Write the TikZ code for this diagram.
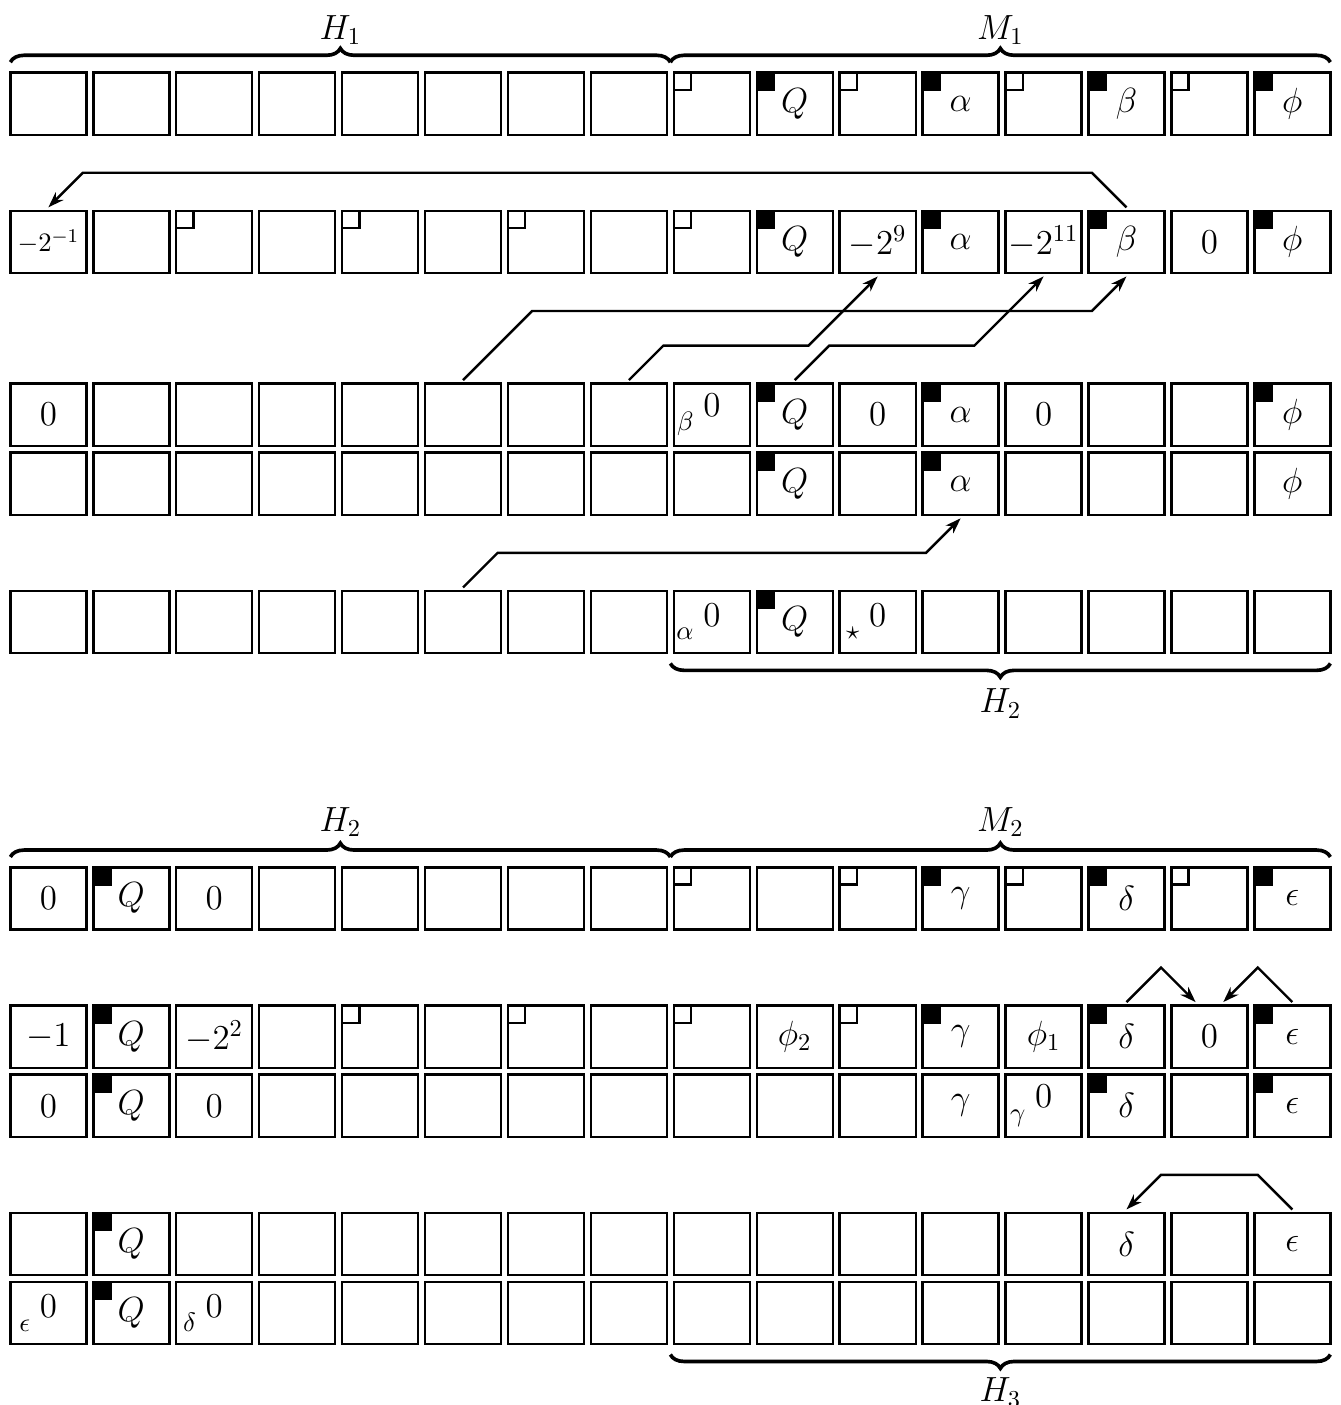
\documentclass[tikz,border=0pt]{standalone}
\usetikzlibrary{decorations.pathreplacing,arrows.meta,calc}
\tikzset{
  cell/.style={draw, line width=1pt, minimum width=1.1cm, minimum height=0.9cm, inner sep=0pt, outer sep=0pt, font=\Large},
  conn/.style={line width=1pt, -{Stealth[length=6.5pt,width=4.5pt]}},
  brc/.style={decorate, decoration={brace, amplitude=0.2cm}, line width=1.5pt},
  lbl/.style={font=\Large, inner sep=0pt},
}
\newcommand{\cellrow}[3]{\foreach \ct [count=\ci] in {#3} {\node[cell] (r#1c\ci) at ({0.7+1.2*(\ci-1)},#2) {\ct};}}
\newcommand{\osq}[1]{\draw[line width=1pt] (#1.north west) rectangle ++(0.25,-0.25);}
\newcommand{\fsq}[1]{\filldraw[line width=1pt] (#1.north west) rectangle ++(0.25,-0.25);}
\newcommand{\lsub}[2]{$\llap{\raisebox{-5.5pt}{\fontsize{11}{13}\selectfont$#1$}\hspace{4pt}}#2$}
\begin{document}
\begin{tikzpicture}
\useasboundingbox (0,0) rectangle (19.39,-20.33);
% ---------- first diagram ----------
\cellrow{1}{-1.5}{{},{},{},{},{},{},{},{},{},{$Q$},{},{$\alpha$},{},{$\beta$},{},{$\phi$}}
\cellrow{2}{-3.5}{{\fontsize{11}{13}\selectfont$-2^{-1}$},{},{},{},{},{},{},{},{},{$Q$},{$-2^9$},{$\alpha$},{$-2^{11}$},{$\beta$},{$0$},{$\phi$}}
\cellrow{3}{-6}{{$0$},{},{},{},{},{},{},{},{\lsub{\beta}{0}},{$Q$},{$0$},{$\alpha$},{$0$},{},{},{$\phi$}}
\cellrow{4}{-7}{{},{},{},{},{},{},{},{},{},{$Q$},{},{$\alpha$},{},{},{},{$\phi$}}
\cellrow{5}{-9}{{},{},{},{},{},{},{},{},{\lsub{\alpha}{0}},{$Q$},{\lsub{\star}{0}},{},{},{},{},{}}
\foreach \k in {9,11,13,15} {\osq{r1c\k}}
\foreach \k in {10,12,14,16} {\fsq{r1c\k}}
\foreach \k in {3,5,7,9} {\osq{r2c\k}}
\foreach \k in {10,12,14,16} {\fsq{r2c\k}}
\foreach \k in {10,12,16} {\fsq{r3c\k}}
\foreach \k in {10,12} {\fsq{r4c\k}}
\fsq{r5c10}
% braces
\draw[brc] (r1c1.north west) ++(0,0.15) -- node[lbl, yshift=0.47cm] (lH1) {$H_1$} ([shift={(0.05,0.15)}]r1c8.north east);
\draw[brc] ([shift={(-0.05,0.15)}]r1c9.north west) -- node[lbl, yshift=0.47cm] (lM1) {$M_1$} ([shift={(0,0.15)}]r1c16.north east);
\draw[brc] ([shift={(0,-0.15)}]r5c16.south east) -- node[lbl, yshift=-0.58cm] (lH2a) {$H_2$} ([shift={(-0.05,-0.15)}]r5c9.south west);
% connectors
\draw[conn] ([yshift=.05cm]r2c14.north) -- ++(-0.5,0.5) -- ([shift={(0.5,0.55)}]r2c1.north) -- ([yshift=.05cm]r2c1.north);
\draw[conn] ([yshift=.05cm]r3c6.north) -- ++(1,1) -- ([shift={(-0.5,-0.55)}]r2c14.south) -- ([yshift=-.05cm]r2c14.south);
\draw[conn] ([yshift=.05cm]r3c8.north) -- ++(0.5,0.5) -- ([shift={(-1,-1.05)}]r2c11.south) -- ([yshift=-.05cm]r2c11.south);
\draw[conn] ([yshift=.05cm]r3c10.north) -- ++(0.5,0.5) -- ([shift={(-1,-1.05)}]r2c13.south) -- ([yshift=-.05cm]r2c13.south);
\draw[conn] ([yshift=.05cm]r5c6.north) -- ++(0.5,0.5) -- ([shift={(-0.5,-0.55)}]r4c12.south) -- ([yshift=-.05cm]r4c12.south);
% ---------- second diagram ----------
\cellrow{6}{-13}{{$0$},{$Q$},{$0$},{},{},{},{},{},{},{},{},{$\gamma$},{},{$\delta$},{},{$\epsilon$}}
\cellrow{7}{-15}{{$-1$},{$Q$},{$-2^2$},{},{},{},{},{},{},{$\phi_2$},{},{$\gamma$},{$\phi_1$},{$\delta$},{$0$},{$\epsilon$}}
\cellrow{8}{-16}{{$0$},{$Q$},{$0$},{},{},{},{},{},{},{},{},{$\gamma$},{\lsub{\gamma}{0}},{$\delta$},{},{$\epsilon$}}
\cellrow{9}{-18}{{},{$Q$},{},{},{},{},{},{},{},{},{},{},{},{$\delta$},{},{$\epsilon$}}
\cellrow{10}{-19}{{\lsub{\epsilon}{0}},{$Q$},{\lsub{\delta}{0}},{},{},{},{},{},{},{},{},{},{},{},{},{}}
\foreach \k in {2,12,14,16} {\fsq{r6c\k}}
\foreach \k in {9,11,13,15} {\osq{r6c\k}}
\foreach \k in {2,12,14,16} {\fsq{r7c\k}}
\foreach \k in {5,7,9,11} {\osq{r7c\k}}
\foreach \k in {2,14,16} {\fsq{r8c\k}}
\fsq{r9c2}
\fsq{r10c2}
\draw[brc] (r6c1.north west) ++(0,0.15) -- node[lbl, yshift=0.5cm] (lH2b) {$H_2$} ([shift={(0.05,0.15)}]r6c8.north east);
\draw[brc] ([shift={(-0.05,0.15)}]r6c9.north west) -- node[lbl, yshift=0.5cm] (lM2) {$M_2$} ([shift={(0,0.15)}]r6c16.north east);
\draw[brc] ([shift={(0,-0.15)}]r10c16.south east) -- node[lbl, yshift=-0.55cm] (lH3) {$H_3$} ([shift={(-0.05,-0.15)}]r10c9.south west);
\draw[conn] ([yshift=.05cm]r7c14.north) -- ++(0.5,0.5) -- ([shift={(-0.2,0.05)}]r7c15.north);
\draw[conn] ([yshift=.05cm]r7c16.north) -- ++(-0.5,0.5) -- ([shift={(0.2,0.05)}]r7c15.north);
\draw[conn] ([yshift=.05cm]r9c16.north) -- ++(-0.5,0.5) -- ([shift={(0.5,0.55)}]r9c14.north) -- ([yshift=.05cm]r9c14.north);
\end{tikzpicture}
\end{document}
